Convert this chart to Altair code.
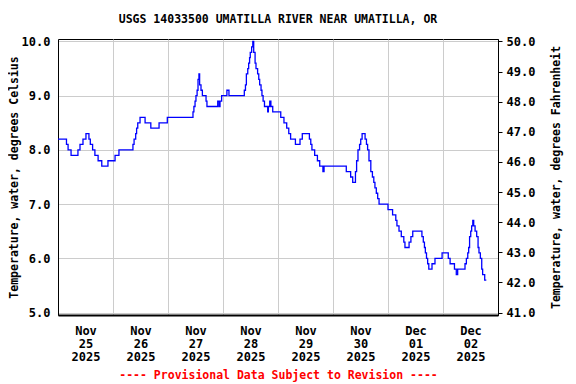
import altair as alt
import pandas as pd

# Hours after 2025-11-25 00:00 and water temperature (deg C), step data
hours = [0, 3.7, 4.4, 5.7, 8.7, 9.6, 10.9, 12.2, 13.5, 14.1, 15.1, 16.1, 17.5, 19.1,
         21.8, 24.9, 26.6, 32.7, 33.2, 33.9, 34.3, 34.8, 35.8, 38.0, 40.5, 44.1, 47.7,
         58.9, 59.3, 59.8, 60.2, 60.7, 61.1, 61.5, 61.8, 62.4, 63.0, 64.6, 65.0, 69.7,
         70.3, 70.7, 71.4, 73.7, 74.6, 81.3, 81.8, 82.2, 82.8, 83.2, 83.6, 83.9, 84.5,
         85.0, 85.4, 86.0, 86.4, 87.1, 87.6, 88.0, 88.6, 89.0, 89.5, 90.1, 91.5, 91.8,
         92.4, 92.9, 93.7, 97.2, 98.6, 99.8, 100.7, 101.5, 103.6, 105.6, 106.6, 109.7,
         110.3, 110.8, 112.0, 113.2, 114.2, 115.6, 116.1, 125.8, 127.7, 128.6, 129.8,
         130.3, 130.9, 131.6, 132.1, 132.7, 134.0, 134.6, 135.1, 135.7, 136.5, 137.2,
         137.8, 138.3, 138.9, 139.5, 140.1, 144.0, 146.0, 147.4, 147.9, 148.8, 149.8,
         150.9, 151.4, 153.2, 154.0, 154.8, 158.8, 159.4, 159.9, 160.3, 160.8, 161.3,
         161.8, 163.2, 164.5, 167.6, 170.3, 171.1, 173.0, 173.8, 174.4, 177.6, 178.2,
         178.8, 179.2, 179.6, 180.1, 180.5, 181.0, 181.4, 182.0, 182.7, 183.3, 183.7,
         184.3, 184.9, 185.3, 186.2, 186.9]
temps_c = [8.2, 8.1, 8.0, 7.9, 8.0, 8.1, 8.2, 8.3, 8.2, 8.1, 8.0, 7.9, 7.8, 7.7,
           7.8, 7.9, 8.0, 8.1, 8.2, 8.3, 8.4, 8.5, 8.6, 8.5, 8.4, 8.5, 8.6,
           8.7, 8.8, 8.9, 9.0, 9.1, 9.3, 9.4, 9.2, 9.1, 9.0, 8.9, 8.8, 8.9,
           8.8, 8.9, 9.0, 9.1, 9.0, 9.1, 9.2, 9.4, 9.5, 9.6, 9.7, 9.8, 9.9,
           10.0, 9.8, 9.6, 9.5, 9.4, 9.3, 9.2, 9.1, 9.0, 8.9, 8.8, 8.7, 8.8,
           8.9, 8.8, 8.7, 8.6, 8.5, 8.4, 8.3, 8.2, 8.1, 8.2, 8.3, 8.2,
           8.1, 8.0, 7.9, 7.8, 7.7, 7.6, 7.7, 7.6, 7.5, 7.4, 7.6,
           7.8, 8.0, 8.1, 8.2, 8.3, 8.2, 8.1, 8.0, 7.8, 7.6, 7.5,
           7.4, 7.3, 7.2, 7.1, 7.0, 6.9, 6.8, 6.7, 6.6, 6.5, 6.4,
           6.3, 6.2, 6.3, 6.4, 6.5, 6.4, 6.3, 6.2, 6.1, 6.0, 5.9,
           5.8, 5.9, 6.0, 6.1, 6.0, 5.9, 5.8, 5.7, 5.8, 5.9, 6.0,
           6.1, 6.2, 6.4, 6.5, 6.6, 6.7, 6.6, 6.5, 6.4, 6.2, 6.1,
           6.0, 5.8, 5.7, 5.6, 5.6]

celsius_ticks = [5, 6, 7, 8, 9, 10]
fahrenheit_ticks = [41, 42, 43, 44, 45, 46, 47, 48, 49, 50]

base = pd.Timestamp("2025-11-25T00:00:00Z")
times = [(base + pd.Timedelta(hours=h)).strftime("%Y-%m-%dT%H:%M:%SZ") for h in hours]
df = pd.DataFrame({"time": times, "c": temps_c})

start_ms = int(base.timestamp() * 1000)
day_ms = 86400000
x_domain = [start_ms, start_ms + 8 * day_ms]
day_ticks = [start_ms + i * day_ms for i in range(8)]

FONT = "DejaVu Sans Mono"
GRID = "#cccccc"

x_enc = alt.X(
    "time:T",
    scale=alt.Scale(type="utc", domain=x_domain),
    axis=alt.Axis(
        values=day_ticks,
        labelExpr="[utcFormat(datum.value, '%b'), utcFormat(datum.value, '%d'), utcFormat(datum.value, '%Y')]",
        labelOffset=27.5,
        labelAlign="center",
        labelBaseline="top",
        labelPadding=10,
        labelLineHeight=13,
        labelFlush=False,
        labelOverlap=False,
        ticks=False,
        grid=True,
        gridColor=GRID,
        domainColor="black",
        domainWidth=2,
        title="---- Provisional Data Subject to Revision ----",
        titleColor="#ff0000",
        titleFontSize=11.5,
        titlePadding=7,
    ),
)

line_c = alt.Chart(df).mark_line(
    interpolate="step-after", color="#0000ff", strokeWidth=1.3
).encode(
    x=x_enc,
    y=alt.Y(
        "c:Q",
        scale=alt.Scale(domain=[4.955, 10.045], nice=False, zero=False),
        axis=alt.Axis(
            orient="left",
            values=celsius_ticks,
            format=".1f",
            ticks=False,
            grid=True,
            gridColor=GRID,
            labelPadding=8,
            domainColor="black",
            title="Temperature, water, degrees Celsius",
            titlePadding=2,
        ),
    ),
)

line_f = alt.Chart(df).transform_calculate(
    f="datum.c * 1.8 + 32"
).mark_line(interpolate="step-after", strokeOpacity=0).encode(
    x=x_enc,
    y=alt.Y(
        "f:Q",
        scale=alt.Scale(domain=[40.919, 50.081], nice=False, zero=False),
        axis=alt.Axis(
            orient="right",
            values=fahrenheit_ticks,
            format=".1f",
            grid=False,
            tickSize=4,
            tickColor="black",
            labelPadding=4,
            domainColor="black",
            title="Temperature, water, degrees Fahrenheit",
            titleAngle=270,
            titlePadding=27,
        ),
    ),
)

chart = alt.layer(line_c, line_f).resolve_scale(y="independent").properties(
    width=440,
    height=276,
    title=alt.Title(
        "USGS 14033500 UMATILLA RIVER NEAR UMATILLA, OR",
        font=FONT, fontSize=11.5, fontWeight="bold", color="black", offset=10,
    ),
    autosize=alt.AutoSizeParams(type="none"),
    padding={"left": 50, "top": 31, "right": 70, "bottom": 69},
).configure_axis(
    labelFont=FONT, labelFontSize=12, labelFontWeight="bold", labelColor="black",
    titleFont=FONT, titleFontSize=11.5, titleFontWeight="bold", titleColor="black",
    domainWidth=1,
).configure_view(stroke="black", strokeWidth=1)

chart.save("out.html", embed_options={"renderer": "svg", "actions": False})
